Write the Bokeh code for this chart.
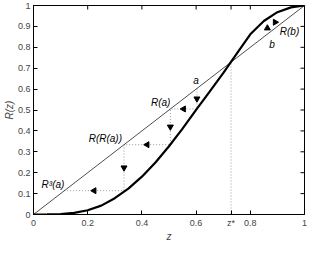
import math
from bokeh.plotting import figure
from bokeh.models import Range1d, FixedTicker, Slope, Label
from bokeh.embed import file_html
from bokeh.resources import INLINE

# ---- data ----
z_grid = [0.00, 0.05, 0.10, 0.15, 0.20, 0.25, 0.30, 0.35, 0.40, 0.45, 0.50,
          0.55, 0.60, 0.65, 0.70, 0.75, 0.80, 0.85, 0.90, 0.95, 1.00]
R_curve = [0.0000, 0.0003, 0.0022, 0.0080, 0.0205, 0.0425, 0.0780, 0.1240, 0.1810, 0.2490, 0.3265,
           0.4112, 0.5005, 0.5880, 0.6760, 0.7700, 0.8620, 0.9260, 0.9680, 0.9910, 1.0000]

iterates = [0.603, 0.505, 0.334, 0.114]   # a, R(a), R(R(a)), R^3(a)
b_point = 0.863
R_b = 0.920
z_star = 0.729

x_ticks = [0.0, 0.2, 0.4, 0.6, z_star, 0.8, 1.0]
x_tick_labels = ["0", "0.2", "0.4", "0.6", "z*", "0.8", "1"]
y_ticks = [0.0, 0.1, 0.2, 0.3, 0.4, 0.5, 0.6, 0.7, 0.8, 0.9, 1.0]
y_tick_labels = ["0", "0.1", "0.2", "0.3", "0.4", "0.5", "0.6", "0.7", "0.8", "0.9", "1"]

FONT = "Liberation Sans"
TICK_FS = "9px"
FS = "10px"

p = figure(width=307, height=244, x_range=Range1d(0, 1), y_range=Range1d(0, 1),
           output_backend="svg", toolbar_location=None,
           min_border_left=0, min_border_right=3, min_border_top=5, min_border_bottom=0)
p.grid.visible = False
p.outline_line_color = "black"
p.outline_line_width = 1
p.outline_line_alpha = 1
p.background_fill_color = "white"

p.xaxis.ticker = FixedTicker(ticks=x_ticks)
p.xaxis.major_label_overrides = dict(zip(x_ticks, x_tick_labels))
p.yaxis.ticker = FixedTicker(ticks=y_ticks)
p.yaxis.major_label_overrides = dict(zip(y_ticks, y_tick_labels))
p.xaxis.axis_label = "z"
p.yaxis.axis_label = "R(z)"

for ax in [p.xaxis[0], p.yaxis[0]]:
    ax.major_tick_in = 4
    ax.major_tick_out = 0
    ax.minor_tick_in = 0
    ax.minor_tick_out = 0
    ax.axis_line_color = "black"
    ax.axis_line_width = 1
    ax.major_tick_line_color = "black"
    ax.major_label_text_font = FONT
    ax.major_label_text_font_size = TICK_FS
    ax.major_label_standoff = 3
    ax.axis_label_text_font = FONT
    ax.axis_label_text_font_style = "italic"
    ax.axis_label_text_font_size = FS
    ax.axis_label_standoff = 0

# mirrored inward ticks on the top and right edges (half of each dash is clipped by the frame)
p.scatter(x_ticks, [1.0] * len(x_ticks), marker="dash", angle=math.pi / 2, size=8,
          line_color="black", line_width=1)
p.scatter([1.0] * len(y_ticks), y_ticks, marker="dash", angle=0, size=8,
          line_color="black", line_width=1)

# diagonal
p.add_layout(Slope(gradient=1, y_intercept=0, line_color="black", line_width=0.7))

# dotted staircase (cobweb)
sx, sy = [iterates[0]], [iterates[0]]
for k in range(1, len(iterates)):
    sx += [iterates[k - 1], iterates[k]]
    sy += [iterates[k], iterates[k]]
p.line(sx, sy, line_color="#9a9a9a", line_width=1, line_dash="1 2")
# z* dotted vertical
p.segment(x0=[z_star], y0=[0], x1=[z_star], y1=[z_star], line_color="#9a9a9a",
          line_width=1, line_dash="1 2")

# R(z)
p.line(z_grid, R_curve, line_color="black", line_width=2.2)

# arrows (midpoints of each cobweb step)
ax_, ay_, ang = [], [], []
for k in range(1, len(iterates)):
    prev, cur = iterates[k - 1], iterates[k]
    ax_.append(prev); ay_.append((prev + cur) / 2); ang.append(math.pi)
    ax_.append((prev + cur) / 2); ay_.append(cur); ang.append(math.pi / 2)
ax_.append(b_point); ay_.append((b_point + R_b) / 2); ang.append(0)
ax_.append((b_point + R_b) / 2); ay_.append(R_b); ang.append(-math.pi / 2)
p.scatter(ax_, ay_, marker="triangle", angle=ang, size=6, color="black")

# labels
def lab(x, y, text, xo=0, yo=0, align="center", base="bottom", size=FS):
    p.add_layout(Label(x=x, y=y, text=text, x_offset=xo, y_offset=yo, text_align=align,
                       text_baseline=base, text_font=FONT, text_font_style="italic",
                       text_font_size=size, text_color="black"))

lab(iterates[0], iterates[0], "a", xo=-1, yo=2)
lab(iterates[1], iterates[1], "R(a)", xo=0, yo=1, align="right")
lab(iterates[2], iterates[2], "R(R(a))", xo=-2, yo=1, align="right")
lab(iterates[3], iterates[3], "R³(a)", xo=0, yo=1, align="right")
lab(b_point, b_point, "b", xo=2, yo=-5, align="left", base="top")
lab(R_b, R_b, "R(b)", xo=-3, yo=-4, align="left", base="top")

open("out.html", "w").write(file_html(p, INLINE))
